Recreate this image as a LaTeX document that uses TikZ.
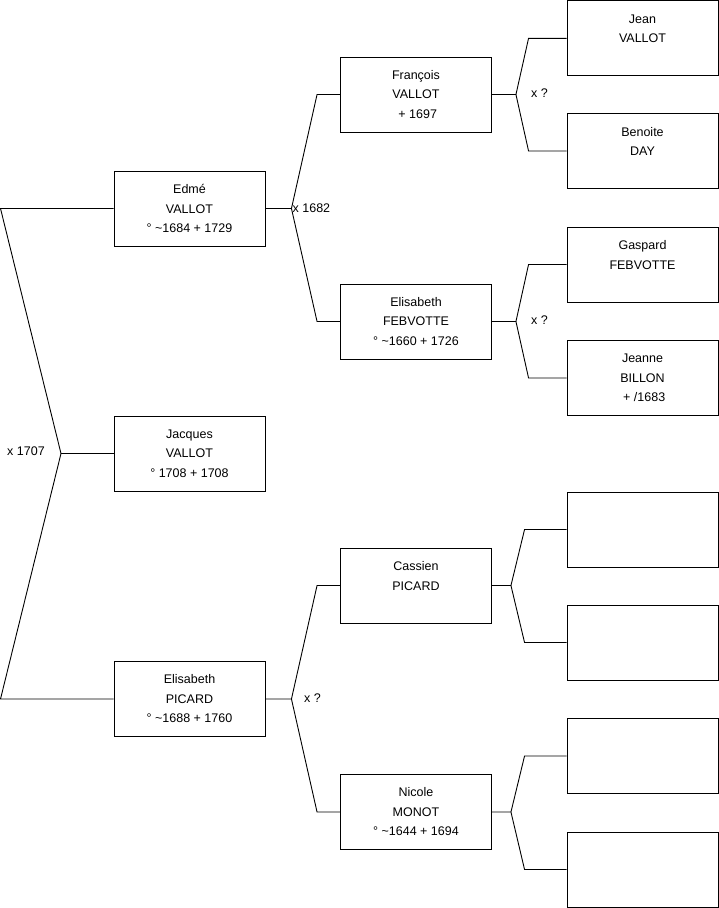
\documentclass[tikz,border=0pt]{standalone}
\usepackage{fontspec}
\setmainfont{Liberation Sans}
\begin{document}
\begin{tikzpicture}[x=1pt,y=-1pt,
  box/.style={draw, line width=0.9pt, minimum width=151pt, minimum height=75pt, align=center, inner sep=0pt, font=\fontsize{12.5}{19.5}\selectfont},
  link/.style={line width=0.9pt},
  lbl/.style={font=\fontsize{12.5}{15}\selectfont, inner sep=0pt, anchor=west}]
\useasboundingbox (0,0) rectangle (719,908);
% generation 1
\node[box] (Edme) at (189.5,208.5) {Edmé\\VALLOT\\° \textasciitilde1684 + 1729};
\node[box] (Jacques) at (189.5,453.5) {Jacques\\VALLOT\\° 1708 + 1708};
\node[box] (EPicard) at (189.5,699) {Elisabeth\\PICARD\\° \textasciitilde1688 + 1760};
% generation 2
\node[box] (Francois) at (416,94.5) {François\\VALLOT\\\ + 1697};
\node[box] (EFeb) at (416,321.5) {Elisabeth\\FEBVOTTE\\° \textasciitilde1660 + 1726};
\node[box] (Cassien) at (416,585.5) {Cassien\\PICARD\\~};
\node[box] (Nicole) at (416,812) {Nicole\\MONOT\\° \textasciitilde1644 + 1694};
% generation 3
\node[box] (Jean) at (642.5,38.3) {Jean\\VALLOT\\~};
\node[box] (Benoite) at (642.5,151) {Benoite\\DAY\\~};
\node[box] (Gaspard) at (642.5,264.5) {Gaspard\\FEBVOTTE\\~};
\node[box] (Jeanne) at (642.5,378) {Jeanne\\BILLON\\\ + /1683};
\node[box] (E1) at (642.5,529.5) {};
\node[box] (E2) at (642.5,642.5) {};
\node[box] (E3) at (642.5,756) {};
\node[box] (E4) at (642.5,869.5) {};
% connectors, root
\coordinate (r0top) at (0.5,208.5);
\coordinate (r0bot) at (0.5,699);
\coordinate (f0) at (61,453.5);
\draw[link] (Edme.west) -- (r0top) -- (f0) -- (r0bot) -- (EPicard.west);
\draw[link] (f0) -- (Jacques.west);
\node[lbl] (l0) at (7,451) {x 1707};
% Edme fork
\coordinate (f1) at ([xshift=26pt]Edme.east);
\draw[link] (Edme.east) -- (f1) -- ([xshift=-23pt]Francois.west) -- (Francois.west);
\draw[link] (f1) -- ([xshift=-23pt]EFeb.west) -- (EFeb.west);
\node[lbl] (l1) at ([xshift=1pt]f1) {x 1682};
% Picard fork
\coordinate (f2) at ([xshift=26pt]EPicard.east);
\draw[link] (EPicard.east) -- (f2) -- ([xshift=-23pt]Cassien.west) -- (Cassien.west);
\draw[link] (f2) -- ([xshift=-23pt]Nicole.west) -- (Nicole.west);
\node[lbl] (l2) at (304,698) {x ?};
% Francois fork
\coordinate (f3) at ([xshift=24pt]Francois.east);
\draw[link] (Francois.east) -- (f3) -- ([xshift=-38pt]Jean.west) -- (Jean.west);
\draw[link] (f3) -- ([xshift=-38pt]Benoite.west) -- (Benoite.west);
\node[lbl] (l3) at (531,93) {x ?};
% Febvotte fork
\coordinate (f4) at ([xshift=24pt]EFeb.east);
\draw[link] (EFeb.east) -- (f4) -- ([xshift=-38pt]Gaspard.west) -- (Gaspard.west);
\draw[link] (f4) -- ([xshift=-38pt]Jeanne.west) -- (Jeanne.west);
\node[lbl] (l4) at (531,320) {x ?};
% Cassien fork
\coordinate (f5) at ([xshift=19pt]Cassien.east);
\draw[link] (Cassien.east) -- (f5) -- ([xshift=-42pt]E1.west) -- (E1.west);
\draw[link] (f5) -- ([xshift=-42pt]E2.west) -- (E2.west);
% Nicole fork
\coordinate (f6) at ([xshift=19pt]Nicole.east);
\draw[link] (Nicole.east) -- (f6) -- ([xshift=-42pt]E3.west) -- (E3.west);
\draw[link] (f6) -- ([xshift=-42pt]E4.west) -- (E4.west);
\end{tikzpicture}
\end{document}
